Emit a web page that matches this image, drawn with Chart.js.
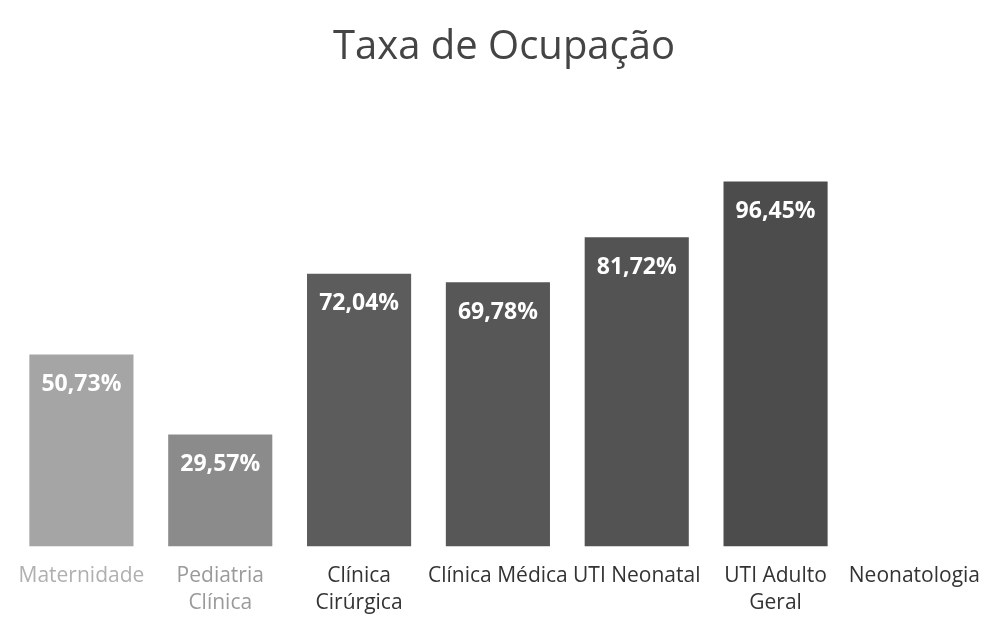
<!DOCTYPE html>
<html>
<head>
<meta charset="utf-8">
<script src="https://cdn.jsdelivr.net/npm/chart.js@4"></script>
<style>
  html, body { margin: 0; padding: 0; background: #fff; }
  #wrap { width: 996px; height: 619px; }
</style>
</head>
<body>
<div id="wrap"><canvas id="occupancyChart"></canvas></div>
<script>
const categories = [
  'Maternidade',
  ['Pediatria', 'Clínica'],
  ['Clínica', 'Cirúrgica'],
  'Clínica Médica',
  'UTI Neonatal',
  ['UTI Adulto', 'Geral'],
  'Neonatologia'
];
const occupancy = [50.73, 29.57, 72.04, 69.78, 81.72, 96.45, null];
const barColors = ['#a5a5a5', '#8b8b8b', '#5c5c5c', '#575757', '#535353', '#4c4c4c', '#4c4c4c'];
const labelColors = ['#b0b0b0', '#9a9a9a', '#333', '#333', '#333', '#333', '#333'];

// white value labels near the top of each bar
const valueLabels = {
  id: 'valueLabels',
  afterDatasetsDraw(chart) {
    const ctx = chart.ctx;
    const meta = chart.getDatasetMeta(0);
    ctx.save();
    ctx.font = 'bold 23px "Open Sans"';
    ctx.fillStyle = '#fff';
    ctx.textAlign = 'center';
    ctx.textBaseline = 'middle';
    meta.data.forEach((bar, i) => {
      const v = occupancy[i];
      if (v == null) return;
      ctx.fillText(v.toFixed(2).replace('.', ',') + '%', bar.x, bar.y + 30);
    });
    ctx.restore();
  }
};

const ctx = document.getElementById('occupancyChart').getContext('2d');
new Chart(ctx, {
  type: 'bar',
  data: {
    labels: categories,
    datasets: [{
      data: occupancy,
      backgroundColor: barColors,
      barPercentage: 0.75,
      categoryPercentage: 1
    }]
  },
  options: {
    responsive: true,
    maintainAspectRatio: false,
    animation: false,
    layout: { padding: { left: 12, right: 0, top: 0, bottom: -14 } },
    plugins: {
      legend: { display: false },
      tooltip: { enabled: false },
      title: {
        display: true,
        text: 'Taxa de Ocupação',
        color: '#444',
        font: { family: '"Open Sans"', size: 40, weight: 'normal' },
        padding: { top: 24, bottom: 96 }
      }
    },
    scales: {
      x: {
        grid: { display: false, drawTicks: false },
        border: { display: false },
        ticks: {
          autoSkip: false,
          maxRotation: 0,
          padding: 16,
          color: (c) => labelColors[c.index],
          font: { family: '"Open Sans"', size: 21, lineHeight: 1.3 }
        }
      },
      y: {
        display: false,
        min: 0,
        max: 100
      }
    }
  },
  plugins: [valueLabels]
});
</script>
</body>
</html>
